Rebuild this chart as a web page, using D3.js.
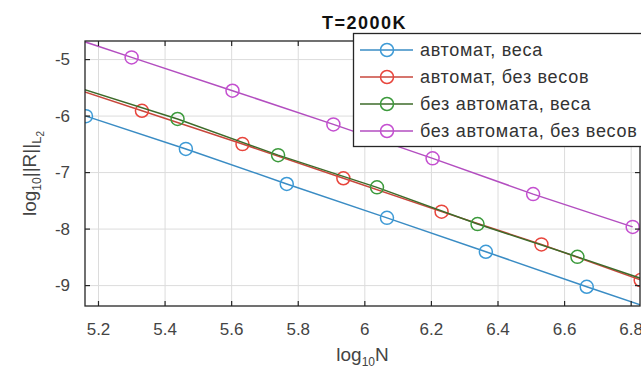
<!DOCTYPE html>
<html>
<head>
<meta charset="utf-8">
<script src="https://cdn.jsdelivr.net/npm/d3@7"></script>
<style>
body { margin: 0; background: #fff; }
text { font-family: "Liberation Sans", Arial, sans-serif; }
</style>
</head>
<body>
<svg id="chart"></svg>
<script>
// values (log10 N, log10 ||R||)
var titleText = "T=2000K";
var seriesNames = ["автомат, веса", "автомат, без весов", "без автомата, веса", "без автомата, без весов"];
var xTicks = [5.2, 5.4, 5.6, 5.8, 6, 6.2, 6.4, 6.6, 6.8];
var yTicks = [-9, -8, -7, -6, -5];

var avtVesaX = [5.164, 5.464, 5.767, 6.068, 6.365, 6.668, 6.97];
var avtVesaY = [-6.01, -6.59, -7.21, -7.81, -8.41, -9.03, -9.63];

var avtBezX = [5.03, 5.332, 5.634, 5.937, 6.232, 6.532, 6.83];
var avtBezY = [-5.33, -5.915, -6.504, -7.11, -7.70, -8.28, -8.91];

var bezAvtVesaX = [5.138, 5.439, 5.741, 6.038, 6.34, 6.64, 6.94];
var bezAvtVesaY = [-5.50, -6.06, -6.70, -7.27, -7.92, -8.50, -9.10];

var bezAvtBezX = [5.0, 5.301, 5.604, 5.907, 6.205, 6.507, 6.806];
var bezAvtBezY = [-4.38, -4.97, -5.56, -6.156, -6.757, -7.39, -7.97];

var lineColors = ["#3a8cc4", "#c8473c", "#3d6b2a", "#b34ec0"];
var markerColors = ["#3d9ad6", "#e8453c", "#3c9a3c", "#c44fd0"];

var series = [
  {name: seriesNames[0], x: avtVesaX, y: avtVesaY},
  {name: seriesNames[1], x: avtBezX, y: avtBezY},
  {name: seriesNames[2], x: bezAvtVesaX, y: bezAvtVesaY},
  {name: seriesNames[3], x: bezAvtBezX, y: bezAvtBezY}
];
series.forEach(function (s, i) {
  s.line = lineColors[i];
  s.marker = markerColors[i];
  s.points = s.x.map(function (v, j) { return {x: v, y: s.y[j]}; });
});

var width = 641, height = 371;
var plotLeft = 85, plotRight = 640, plotTop = 41, plotBottom = 306;

var xScale = d3.scaleLinear().domain([5.161, 6.828]).range([plotLeft, plotRight]);
var yScale = d3.scaleLinear().domain([-9.37, -4.68]).range([plotBottom, plotTop]);

var svg = d3.select("#chart")
  .attr("width", width)
  .attr("height", height);

svg.append("defs").append("clipPath")
  .attr("id", "plotclip")
  .append("rect")
  .attr("x", plotLeft).attr("y", plotTop)
  .attr("width", plotRight - plotLeft).attr("height", plotBottom - plotTop);

// grid
svg.append("g")
  .attr("transform", "translate(0," + plotBottom + ")")
  .call(d3.axisBottom(xScale).tickValues(xTicks).tickSize(-(plotBottom - plotTop)).tickFormat(""))
  .call(function (g) {
    g.select(".domain").remove();
    g.selectAll("line").attr("stroke", "#dcdcdc");
  });
svg.append("g")
  .attr("transform", "translate(" + plotLeft + ",0)")
  .call(d3.axisLeft(yScale).tickValues(yTicks).tickSize(-(plotRight - plotLeft)).tickFormat(""))
  .call(function (g) {
    g.select(".domain").remove();
    g.selectAll("line").attr("stroke", "#dcdcdc");
  });

// lines and markers
var plot = svg.append("g").attr("clip-path", "url(#plotclip)");
var line = d3.line().x(d => xScale(d.x)).y(d => yScale(d.y));

series.forEach(function (s) {
  plot.append("path")
    .datum(s.points)
    .attr("fill", "none")
    .attr("stroke", s.line)
    .attr("stroke-width", 1.5)
    .attr("d", line);
  plot.selectAll(null)
    .data(s.points)
    .enter().append("circle")
    .attr("cx", d => xScale(d.x))
    .attr("cy", d => yScale(d.y))
    .attr("r", 6.5)
    .attr("fill", "none")
    .attr("stroke", s.marker)
    .attr("stroke-width", 1.5);
});

// axes box with inward ticks
var axisColor = "#262626";
var plainFormat = d => String(d);   // matlab style hyphen minus
function styleAxis(g) {
  g.select(".domain").remove();
  g.selectAll("line").attr("stroke", axisColor).attr("stroke-width", 1.2);
  g.selectAll("text")
    .attr("fill", "#444")
    .style("font-size", "17px")
    .style("font-family", "'Liberation Sans', Arial, sans-serif");
}
svg.append("g")
  .attr("transform", "translate(0," + plotBottom + ")")
  .call(d3.axisBottom(xScale).tickValues(xTicks).tickSize(-5).tickPadding(17).tickFormat(plainFormat))
  .call(styleAxis);
svg.append("g")
  .attr("transform", "translate(0," + plotTop + ")")
  .call(d3.axisTop(xScale).tickValues(xTicks).tickSize(-5).tickFormat(""))
  .call(styleAxis);
svg.append("g")
  .attr("transform", "translate(" + plotLeft + ",0)")
  .call(d3.axisLeft(yScale).tickValues(yTicks).tickSize(-5).tickPadding(15).tickFormat(plainFormat))
  .call(styleAxis);
svg.append("g")
  .attr("transform", "translate(" + plotRight + ",0)")
  .call(d3.axisRight(yScale).tickValues(yTicks).tickSize(-5).tickFormat(""))
  .call(styleAxis);

svg.append("rect")
  .attr("x", plotLeft).attr("y", plotTop)
  .attr("width", plotRight - plotLeft).attr("height", plotBottom - plotTop)
  .attr("fill", "none")
  .attr("stroke", axisColor)
  .attr("stroke-width", 1.3);

// title
svg.append("text")
  .attr("x", (plotLeft + plotRight) / 2 + 2)
  .attr("y", 29)
  .attr("text-anchor", "middle")
  .style("font-size", "18px")
  .style("font-weight", "bold")
  .style("letter-spacing", "1.5px")
  .attr("fill", "#111")
  .text(titleText);

// x label
var xl = svg.append("text")
  .attr("x", (plotLeft + plotRight) / 2)
  .attr("y", 361)
  .attr("text-anchor", "middle")
  .attr("fill", "#444")
  .style("font-size", "19px");
xl.append("tspan").text("log");
xl.append("tspan").attr("dy", 5).style("font-size", "12px").text("10");
xl.append("tspan").attr("dy", -5).text("N");

// y label
var yl = svg.append("text")
  .attr("transform", "translate(36," + ((plotTop + plotBottom) / 2) + ") rotate(-90)")
  .attr("text-anchor", "middle")
  .attr("fill", "#444")
  .style("font-size", "19px");
yl.append("tspan").text("log");
yl.append("tspan").attr("dy", 5).style("font-size", "12px").text("10");
yl.append("tspan").attr("dy", -5).text("||R||");
yl.append("tspan").attr("dy", 5).style("font-size", "13px").text("L");
yl.append("tspan").attr("dy", 3).style("font-size", "10px").text("2");

// legend
var legend = svg.append("g");
legend.append("rect")
  .attr("x", 353.5).attr("y", 33.5)
  .attr("width", 320).attr("height", 113)
  .attr("fill", "#fff")
  .attr("stroke", axisColor)
  .attr("stroke-width", 1.3);

var rows = legend.selectAll(".row")
  .data(series)
  .enter().append("g")
  .attr("class", "row")
  .attr("transform", (d, i) => "translate(0," + (50 + i * 27) + ")");
rows.append("line")
  .attr("x1", 360).attr("x2", 413)
  .attr("stroke", d => d.line)
  .attr("stroke-width", 1.5);
rows.append("circle")
  .attr("cx", 387).attr("r", 6.5)
  .attr("fill", "none")
  .attr("stroke", d => d.marker)
  .attr("stroke-width", 1.5);
rows.append("text")
  .attr("x", 420)
  .attr("dy", "0.35em")
  .attr("fill", "#333")
  .style("font-size", "18px")
  .style("letter-spacing", "0.7px")
  .text(d => d.name);
</script>
</body>
</html>
